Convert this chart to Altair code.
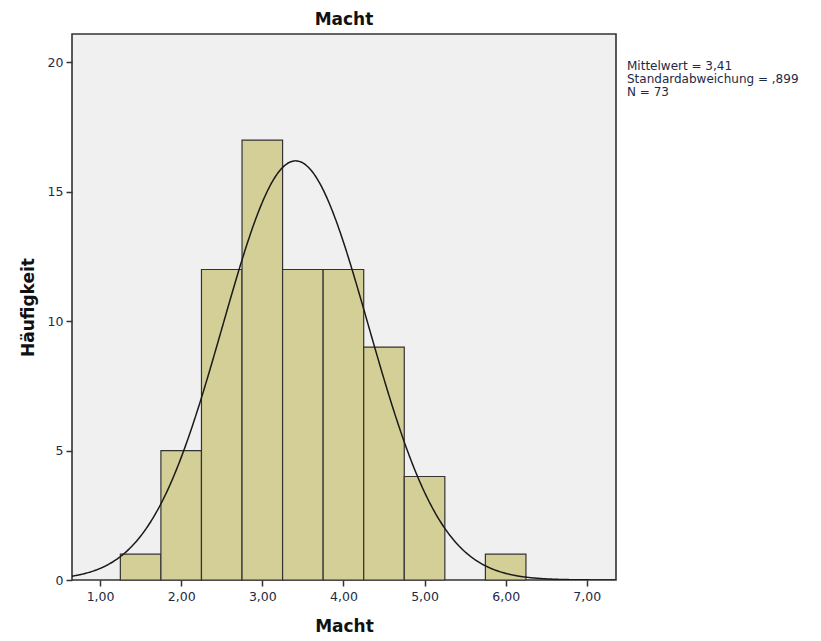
import altair as alt
import pandas as pd

bin_start = [1.25, 1.75, 2.25, 2.75, 3.25, 3.75, 4.25, 4.75, 5.75]
bin_end = [1.75, 2.25, 2.75, 3.25, 3.75, 4.25, 4.75, 5.25, 6.25]
counts = [1, 5, 12, 17, 12, 12, 9, 4, 1]

mean_val = 3.41
sd_val = 0.899
n_val = 73
bin_width = 0.5

stats_lines = ["Mittelwert = 3,41", "Standardabweichung = ,899", "N = 73"]

x_domain = [0.654, 7.36]
y_domain = [0, 21.1]

FONT = "DejaVu Sans"
LABEL_COLOR = "#1e2a44"

bars_df = pd.DataFrame({"start": bin_start, "end": bin_end, "count": counts})

x_scale = alt.Scale(domain=x_domain, nice=False, zero=False)
y_scale = alt.Scale(domain=y_domain, nice=False)

x_axis = alt.Axis(
    title="Macht", values=[1, 2, 3, 4, 5, 6, 7],
    labelExpr="replace(format(datum.value, '.2f'), '.', ',')",
    grid=False, domain=False, tickColor="#333333", tickSize=6, tickWidth=1.5,
    labelFont=FONT, labelFontSize=12.5, labelColor=LABEL_COLOR, labelPadding=4,
    titleFont=FONT, titleFontSize=17, titleFontWeight="bold", titleColor="#111111",
    titlePadding=16,
)
y_axis = alt.Axis(
    title="Häufigkeit", values=[0, 5, 10, 15, 20],
    grid=False, domain=False, tickColor="#333333", tickSize=6, tickWidth=1.5,
    labelFont=FONT, labelFontSize=12.5, labelColor=LABEL_COLOR, labelPadding=3,
    titleFont=FONT, titleFontSize=17, titleFontWeight="bold", titleColor="#111111",
    titlePadding=10,
)

bars = alt.Chart(bars_df).mark_rect(
    fill="#d3cf97", stroke="#333333", strokeWidth=1.2
).encode(
    x=alt.X("start:Q", scale=x_scale, axis=x_axis),
    x2="end:Q",
    y=alt.Y("count:Q", scale=y_scale, axis=y_axis),
    y2=alt.datum(0),
)

curve = alt.Chart(alt.sequence(0.654, 7.36, 0.01, as_="x")).transform_calculate(
    y=f"{n_val}*{bin_width}/({sd_val}*sqrt(2*PI))*exp(-0.5*pow((datum.x-{mean_val})/{sd_val},2))"
).mark_line(color="#1a1a1a", strokeWidth=1.5, clip=True).encode(
    x=alt.X("x:Q", scale=x_scale),
    y=alt.Y("y:Q", scale=y_scale),
)

stats_df = pd.DataFrame({"txt": ["|".join(stats_lines)]})
stats = alt.Chart(stats_df).mark_text(
    align="left", baseline="top", font=FONT, fontSize=12, color=LABEL_COLOR,
    lineBreak="|", lineHeight=13, clip=False
).encode(
    x=alt.value(555),
    y=alt.value(27),
    text="txt:N",
)

chart = alt.layer(bars, curve, stats).properties(
    width=544, height=546,
    title=alt.TitleParams("Macht", font=FONT, fontSize=17, fontWeight="bold", color="#111111", offset=5),
    autosize=alt.AutoSizeParams(type="none"),
    padding={"left": 72, "top": 34, "right": 205, "bottom": 61},
).configure(background="#ffffff").configure_view(
    fill="#f0f0f0", stroke="#333333", strokeWidth=1.6
)

chart.save("out.html", embed_options={"renderer": "svg", "actions": False})
